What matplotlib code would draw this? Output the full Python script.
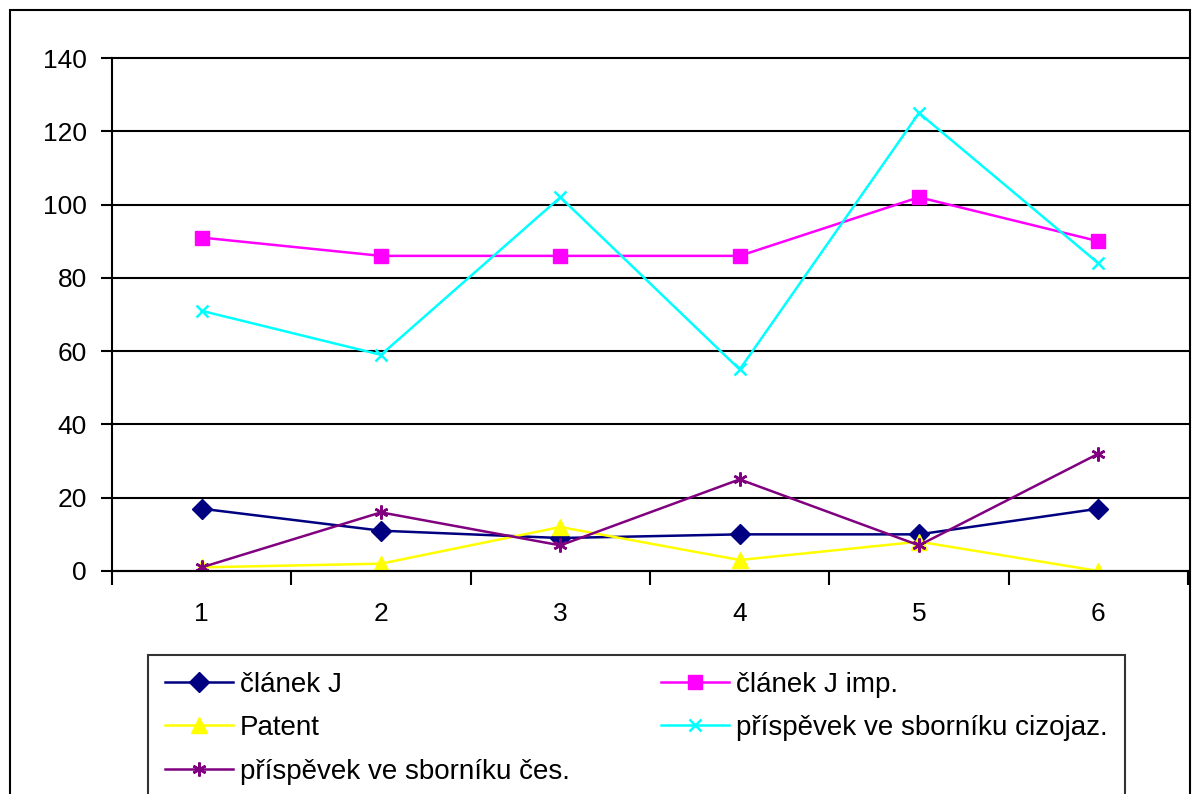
import matplotlib
matplotlib.use("Agg")
import matplotlib.pyplot as plt
from matplotlib.patches import Rectangle
import numpy as np

plt.rcParams['font.family'] = ['Liberation Sans', 'DejaVu Sans']

categories = [1, 2, 3, 4, 5, 6]
clanek_j = [17, 11, 9, 10, 10, 17]
clanek_j_imp = [91, 86, 86, 86, 102, 90]
patent = [1, 2, 12, 3, 8, 0]
sbornik_cizojaz = [71, 59, 102, 55, 125, 84]
sbornik_ces = [1, 16, 7, 25, 7, 32]

fig = plt.figure(figsize=(11.97, 7.94), dpi=100)
ax = fig.add_axes([112 / 1197, 1 - 571 / 794, (1188 - 112) / 1197, (571 - 58) / 794])

x = np.array(categories)
h1, = ax.plot(x, clanek_j, color='#000080', lw=1.8, marker='D', ms=10, label='článek J')
h2, = ax.plot(x, clanek_j_imp, color='#FF00FF', lw=1.8, marker='s', ms=10, label='článek J imp.')
h3, = ax.plot(x, patent, color='#FFFF00', lw=1.8, marker='^', ms=12, label='Patent')
h4, = ax.plot(x, sbornik_cizojaz, color='#00FFFF', lw=1.8, marker='x', ms=9, mew=1.8,
              label='příspěvek ve sborníku cizojaz.')
h5, = ax.plot(x, sbornik_ces, color='#800080', lw=1.8, marker=(6, 2, 0), ms=10, mew=1.8,
              label='příspěvek ve sborníku čes.')

ax.set_xlim(0.5, 6.5)
ax.set_ylim(0, 140)
ax.set_yticks(range(0, 141, 20))
ax.yaxis.grid(True, color='black', lw=1.5)
for gl in ax.get_ygridlines():
    gl.set_clip_on(False)
ax.set_axisbelow(True)
ax.set_xticks(np.arange(0.5, 7, 1))
ax.set_xticklabels([])
ax.set_xticks(x, minor=True)
ax.set_xticklabels([str(c) for c in categories], minor=True)
ax.tick_params(axis='x', which='major', direction='out', length=10, width=1.5)
ax.tick_params(axis='x', which='minor', length=0, pad=22, labelsize=19)
ax.tick_params(axis='y', direction='out', length=8, width=1.5, labelsize=19, pad=10)
for side in ['top', 'right']:
    ax.spines[side].set_visible(False)
for side in ['left', 'bottom']:
    ax.spines[side].set_linewidth(1.5)

order = [h1, h3, h5, h2, h4]
leg = fig.legend(order, [h.get_label() for h in order],
                 ncol=2, loc='upper left',
                 bbox_to_anchor=(148 / 1197, 1 - 655 / 794),
                 fontsize=20, frameon=True, fancybox=False,
                 edgecolor='black', handlelength=2.45, handletextpad=0.25,
                 columnspacing=3.3, borderaxespad=0, labelspacing=0.63,
                 borderpad=0.6)
leg.get_frame().set_linewidth(1.5)

fig.patches.append(Rectangle((10 / 1197, -0.05), (1190 - 10) / 1197, 1.05 - 10 / 794,
                             transform=fig.transFigure, fill=False, edgecolor='black', lw=1.5))

fig.savefig('out.png', dpi=100)
